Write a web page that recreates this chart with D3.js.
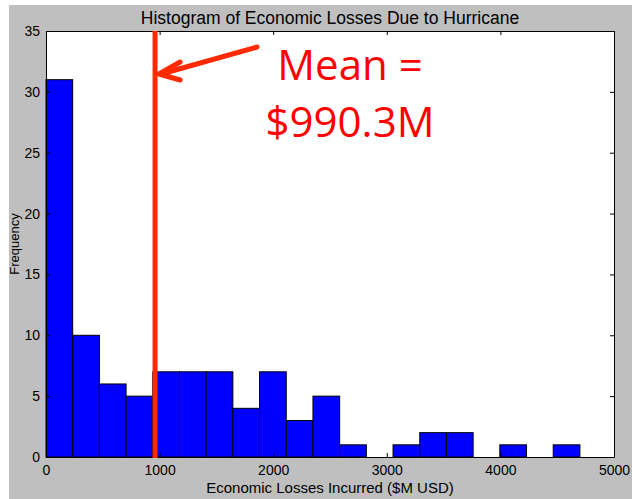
<!DOCTYPE html>
<html><head><meta charset="utf-8">
<script src="https://cdn.jsdelivr.net/npm/d3@7"></script>
<style>body{margin:0;background:#fff}svg{display:block}</style>
</head><body>
<svg id="c" width="632" height="499"></svg>
<script>
const binStart = 0, binWidth = 235;
const counts = [31,10,6,5,7,7,7,4,7,3,5,1,0,1,2,2,0,1,0,1];
const xTicks = [0,1000,2000,3000,4000,5000];
const yTicks = [0,5,10,15,20,25,30,35];
const meanValue = 960; // where the hand-drawn line sits
const titleText = "Histogram of Economic Losses Due to Hurricane";
const xLabel = "Economic Losses Incurred ($M USD)";
const yLabel = "Frequency";
const note = ["Mean =", "$990.3M"];

const bins = counts.map((c,i)=>({x0:binStart+i*binWidth, x1:binStart+(i+1)*binWidth, n:c}));

const svg = d3.select("#c");
const L=46, R=614, T=31, B=457;
const x = d3.scaleLinear().domain([0,5000]).range([L,R]);
const y = d3.scaleLinear().domain([0,35]).range([B,T]);

svg.append("rect").attr("x",9).attr("y",5).attr("width",632-9).attr("height",499-5).attr("fill","#bfbfbf");
svg.append("rect").attr("x",L).attr("y",T).attr("width",R-L).attr("height",B-T).attr("fill","#fff");

svg.append("g").selectAll("rect").data(bins.filter(d=>d.n>0)).join("rect")
  .attr("x",d=>x(d.x0)).attr("width",d=>x(d.x1)-x(d.x0))
  .attr("y",d=>y(d.n)).attr("height",d=>y(0)-y(d.n))
  .attr("fill","#0000ff").attr("stroke","#000").attr("stroke-width",1);

const font = "'Liberation Sans', Arial, Helvetica, sans-serif";
const fmt = d3.format("d");
// axes
const gx = svg.append("g").attr("transform",`translate(0,${B})`).call(d3.axisBottom(x).tickValues(xTicks).tickFormat(fmt).tickSizeInner(-4).tickSizeOuter(0).tickPadding(8));
const gxt = svg.append("g").attr("transform",`translate(0,${T})`).call(d3.axisTop(x).tickValues(xTicks).tickSizeInner(-4).tickSizeOuter(0).tickFormat(""));
const gy = svg.append("g").attr("transform",`translate(${L},0)`).call(d3.axisLeft(y).tickValues(yTicks).tickFormat(fmt).tickSizeInner(-4).tickSizeOuter(0).tickPadding(6));
const gyr = svg.append("g").attr("transform",`translate(${R},0)`).call(d3.axisRight(y).tickValues(yTicks).tickSizeInner(-4).tickSizeOuter(0).tickFormat(""));
[gx,gxt,gy,gyr].forEach(g=>{
  g.selectAll("path").attr("stroke","#000").attr("stroke-width",1);
  g.selectAll("line").attr("stroke","#000");
  g.selectAll("text").attr("font-family",font).attr("font-size",14).attr("fill","#000");
});
gy.selectAll("text").attr("dy","0.32em");

svg.append("text").attr("x",(L+R)/2).attr("y",24).attr("text-anchor","middle")
  .attr("font-family",font).attr("font-size",17.5).text(titleText);
svg.append("text").attr("x",(L+R)/2).attr("y",493).attr("text-anchor","middle")
  .attr("font-family",font).attr("font-size",15).text(xLabel);
svg.append("text").attr("transform",`translate(19,${(T+B)/2}) rotate(-90)`).attr("text-anchor","middle")
  .attr("font-family",font).attr("font-size",13).text(yLabel);

// mean line
const red="#ff2a00";
svg.append("line").attr("x1",x(meanValue)).attr("x2",x(meanValue)).attr("y1",T).attr("y2",B+1)
  .attr("stroke",red).attr("stroke-width",5);
// arrow
const tipX = x(meanValue)+4, tipY=74;
svg.append("line").attr("x1",257).attr("y1",47).attr("x2",tipX+2).attr("y2",tipY).attr("stroke",red).attr("stroke-width",5).attr("stroke-linecap","round");
svg.append("polyline").attr("points",`${tipX+21},62 ${tipX},${tipY} ${tipX+21},80`).attr("fill","none")
  .attr("stroke",red).attr("stroke-width",5).attr("stroke-linecap","round").attr("stroke-linejoin","round");

svg.append("g").selectAll("text").data(note).join("text")
  .attr("x",350).attr("y",(d,i)=>80+i*57).attr("text-anchor","middle")
  .attr("font-family","'Open Sans', 'Noto Sans', sans-serif").attr("font-size",42).attr("fill","#ff0000")
  .text(d=>d);
</script>
</body></html>
